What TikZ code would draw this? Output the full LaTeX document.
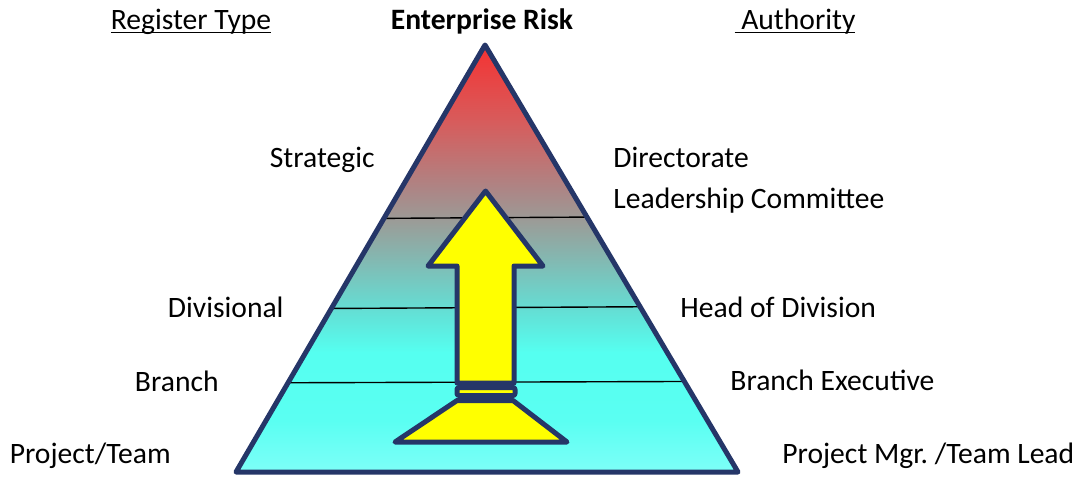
\documentclass[tikz,border=0pt]{standalone}
\usepackage{fontspec}
\setmainfont{Carlito}
\usetikzlibrary{calc}
\newcommand{\RegisterFontSize}{14.8}
\newcommand{\headline}[1]{\setbox0\hbox{#1}\rlap{\rule[-1.9pt]{\wd0}{0.9pt}}\box0}

\definecolor{pyramidEdge}{RGB}{37,54,104}
\definecolor{arrowFill}{RGB}{255,255,0}
\definecolor{riskTop}{RGB}{245,50,50}
\definecolor{riskUpper}{RGB}{215,92,92}
\definecolor{riskGrey}{RGB}{172,134,134}
\definecolor{riskMid}{RGB}{158,152,148}
\definecolor{riskLow}{RGB}{100,222,212}
\definecolor{riskCyan}{RGB}{85,255,240}
\definecolor{riskCyanB}{RGB}{90,255,242}
\definecolor{riskBase}{RGB}{125,255,248}
\pgfdeclareverticalshading{riskshade}{100bp}{color(0bp)=(riskBase); color(25bp)=(riskBase); color(31bp)=(riskCyanB); color(39bp)=(riskCyan); color(44bp)=(riskLow); color(55bp)=(riskMid); color(58bp)=(riskGrey); color(66bp)=(riskUpper); color(75bp)=(riskTop); color(100bp)=(riskTop)}

\begin{document}
\begin{tikzpicture}[x=0.5pt,y=-0.5pt,
		register/.style={font=\fontsize{\RegisterFontSize}{17}\selectfont, inner sep=0pt},
		edge line/.style={draw=pyramidEdge, line width=2.5pt, line join=round},
		tier line/.style={draw=black, line width=0.7pt},
		arrow body/.style={draw=pyramidEdge, fill=arrowFill, line width=2.5pt, line join=round}]
	\useasboundingbox (0,0) rectangle (1085,477);

	% pyramid
	\coordinate (apex) at (485,45);
	\coordinate (bl) at (236,472);
	\coordinate (br) at (738,472);
	\shade[shading=riskshade] (apex) -- (br) -- (bl) -- cycle;
	\foreach \t/\u in {0.406/0.403, 0.617/0.613, 0.791/0.788}
		\draw[tier line] ($(apex)!\t!(bl)$) -- ($(apex)!\u!(br)$);
	\draw[edge line] (apex) -- (br) -- (bl) -- cycle;

	% escalation arrow
	\draw[arrow body] (485.5,191) -- (543,266) -- (514,266) -- (514,383) -- (457,383) -- (457,266) -- (428,266) -- cycle;
	\draw[arrow body, rounded corners=1pt] (457,387.5) rectangle (515,395.5);
	\draw[arrow body] (457,400.5) -- (513,400.5) -- (567,442) -- (395,442) -- cycle;

	% headings
	\node[register, anchor=base] (regtype) at (191,29.5) {\headline{Register Type}};
	\node[register, anchor=base] (erisk) at (482,29.5) {\bfseries Enterprise Risk};
	\node[register, anchor=base] (authority) at (795,29.5) {\headline{\ Authority}};

	% register types
	\node[register, anchor=base east] (strategic) at (375,167) {Strategic};
	\node[register, anchor=base east] (divisional) at (284,317) {Divisional};
	\node[register, anchor=base east] (branch) at (219,391) {Branch};
	\node[register, anchor=base east] (project) at (171,463) {Project/Team};

	% authorities
	\node[register, anchor=base west] (directorate) at (613,167) {Directorate};
	\node[register, anchor=base west] (leadership) at (613,208) {Leadership Committee};
	\node[register, anchor=base west] (hod) at (680,317) {Head of Division};
	\node[register, anchor=base west] (branchexec) at (730,390) {Branch Executive};
	\node[register, anchor=base west] (pm) at (782,463) {Project Mgr.\ /Team Lead};
\end{tikzpicture}
\end{document}
